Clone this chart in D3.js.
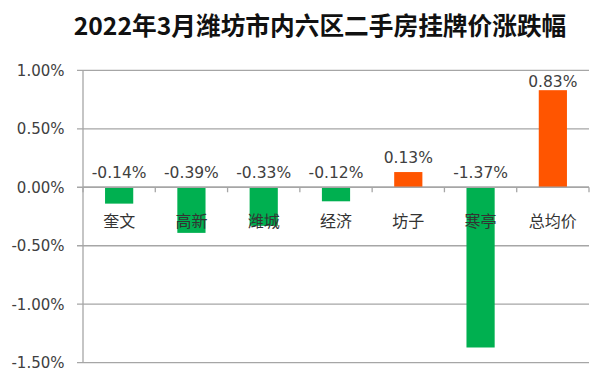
<!DOCTYPE html>
<html><head><meta charset="utf-8">
<script src="https://cdn.jsdelivr.net/npm/d3@7"></script>
<style>body{margin:0;background:#fff}</style>
</head><body><svg id="c" width="605" height="379"></svg>
<script>
const title = "2022年3月潍坊市内六区二手房挂牌价涨跌幅";
const categories = ["奎文","高新","潍城","经济","坊子","寒亭","总均价"];
const values = [-0.14,-0.39,-0.33,-0.12,0.13,-1.37,0.83];
const yTicks = [1.0,0.5,0.0,-0.5,-1.0,-1.5];

const svg = d3.select("#c");
const pL = 83, pR = 589, pT = 70.3, pB = 362.7;
const font = "'Noto Sans CJK SC','Open Sans',sans-serif";
const numFont = "'DejaVu Sans',sans-serif";
const x = d3.scaleBand().domain(categories).range([pL,pR]).paddingInner(0).paddingOuter(0);
const y = d3.scaleLinear().domain([-1.5,1.0]).range([pB,pT]);
const fmt = d => d3.format(".2f")(d).replace("\u2212","-")+"%";

svg.append("text").attr("x",320).attr("y",34.5).attr("text-anchor","middle")
  .attr("font-family",font).attr("font-weight","bold").attr("font-size",24.7).attr("fill","#111").text(title);

// gridlines
svg.append("g").selectAll("line").data(yTicks).join("line")
  .attr("x1",pL-6).attr("x2",pR).attr("y1",d=>y(d)).attr("y2",d=>y(d))
  .attr("stroke","#a6a6a6").attr("stroke-width",1.3);
svg.append("line").attr("x1",pL).attr("x2",pL).attr("y1",pT).attr("y2",pB).attr("stroke","#a6a6a6").attr("stroke-width",1.3);
// y labels
svg.append("g").selectAll("text").data(yTicks).join("text")
  .attr("x",64.5).attr("y",d=>y(d)).attr("dy","0.36em").attr("text-anchor","end")
  .attr("font-family",numFont).attr("font-size",15).attr("fill","#404040")
  .text(fmt);

const bw = x.bandwidth()*0.39;
svg.append("g").selectAll("rect").data(values).join("rect")
  .attr("x",(d,i)=>x(categories[i])+x.bandwidth()/2-bw/2)
  .attr("width",bw)
  .attr("y",d=>y(Math.max(0,d)))
  .attr("height",d=>Math.abs(y(d)-y(0)))
  .attr("fill",d=>d<0?"#00b050":"#ff5500");

// zero axis & ticks
svg.append("line").attr("x1",pL).attr("x2",pR).attr("y1",y(0)).attr("y2",y(0)).attr("stroke","#a6a6a6").attr("stroke-width",1.3);
const tickXs = categories.map(c=>x(c)).concat([pR]);
svg.append("g").selectAll("line").data(tickXs).join("line")
  .attr("x1",d=>d).attr("x2",d=>d).attr("y1",y(0)).attr("y2",y(0)+5)
  .attr("stroke","#a6a6a6").attr("stroke-width",1.3);

// value labels (clamped inside plot area)
svg.append("g").selectAll("text").data(values).join("text")
  .attr("x",(d,i)=>x(categories[i])+x.bandwidth()/2)
  .attr("y",d=>Math.max(pT+11.5,(d<0?y(0):y(d))-14.5)).attr("dy","0.36em").attr("text-anchor","middle")
  .attr("font-family",numFont).attr("font-size",15.5).attr("fill","#404040")
  .text(fmt);

// category labels
svg.append("g").selectAll("text").data(categories).join("text")
  .attr("x",d=>x(d)+x.bandwidth()/2).attr("y",221.5).attr("dy","0.35em").attr("text-anchor","middle")
  .attr("font-family",font).attr("font-size",16).attr("fill","#333")
  .text(d=>d);
</script></body></html>
